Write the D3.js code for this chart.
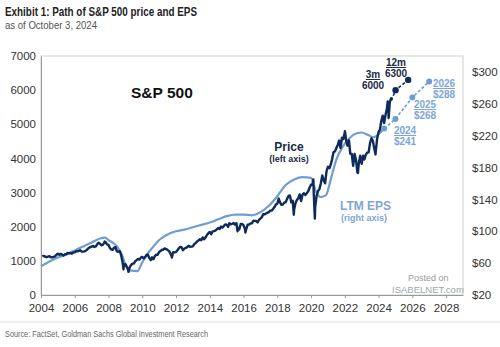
<!DOCTYPE html>
<html>
<head>
<meta charset="utf-8">
<script src="https://cdn.jsdelivr.net/npm/d3@7"></script>
<style>
  body { margin: 0; background: #fff; }
  svg { display: block; }
  .narrow { font-family: "Liberation Sans Narrow", "Liberation Sans", Arial, sans-serif; }
  .sans { font-family: "Liberation Sans", Arial, sans-serif; }
</style>
</head>
<body>
<svg width="500" height="347"></svg>
<script>
// S&P 500 month-end closes, Jan 2004 .. Sep 2024
var priceMonthly = [
  1131, 1145, 1126, 1107, 1121, 1141, 1102, 1104, 1115, 1130, 1174, 1212,
  1181, 1204, 1181, 1157, 1192, 1191, 1234, 1220, 1229, 1207, 1249, 1248,
  1280, 1281, 1295, 1311, 1270, 1270, 1277, 1304, 1336, 1378, 1401, 1418,
  1438, 1407, 1421, 1482, 1531, 1503, 1455, 1474, 1527, 1549, 1481, 1468,
  1379, 1331, 1323, 1386, 1400, 1280, 1267, 1283, 1166, 969, 896, 903,
  826, 735, 798, 873, 919, 919, 987, 1021, 1057, 1036, 1096, 1115,
  1074, 1104, 1169, 1187, 1089, 1031, 1102, 1049, 1141, 1183, 1181, 1258,
  1286, 1327, 1326, 1364, 1345, 1321, 1292, 1219, 1131, 1253, 1247, 1258,
  1312, 1366, 1408, 1398, 1310, 1362, 1379, 1407, 1441, 1412, 1416, 1426,
  1498, 1515, 1569, 1598, 1631, 1606, 1686, 1633, 1682, 1757, 1806, 1848,
  1783, 1859, 1872, 1884, 1924, 1960, 1931, 2003, 1972, 2018, 2068, 2059,
  1995, 2105, 2068, 2086, 2107, 2063, 2104, 1972, 1920, 2079, 2080, 2044,
  1940, 1932, 2060, 2065, 2097, 2099, 2174, 2171, 2168, 2126, 2199, 2239,
  2279, 2364, 2363, 2384, 2412, 2423, 2470, 2472, 2519, 2575, 2648, 2674,
  2824, 2714, 2641, 2648, 2705, 2718, 2816, 2902, 2914, 2712, 2760, 2507,
  2704, 2784, 2834, 2946, 2752, 2942, 2980, 2926, 2977, 3038, 3141, 3231,
  3226, 2954, 2585, 2912, 3044, 3100, 3271, 3500, 3363, 3270, 3622, 3756,
  3714, 3811, 3973, 4181, 4204, 4298, 4395, 4523, 4308, 4605, 4567, 4766,
  4516, 4374, 4530, 4132, 4132, 3785, 4130, 3955, 3586, 3872, 4080, 3840,
  4077, 3970, 4109, 4169, 4180, 4450, 4589, 4508, 4288, 4194, 4568, 4770,
  4846, 5096, 5254, 5036, 5278, 5460, 5522, 5648, 5762
];

// intra-month highs and lows that show up in the daily line
var priceExtremes = [
  ["2007-10-09", 1565], ["2008-11-20", 752], ["2009-03-09", 677],
  ["2010-07-02", 1022], ["2011-10-03", 1099], ["2015-08-25", 1867],
  ["2016-02-11", 1829], ["2018-12-24", 2351], ["2020-02-19", 3386],
  ["2020-03-23", 2237], ["2022-01-03", 4797], ["2022-10-12", 3577],
  ["2023-10-27", 4117], ["2024-07-16", 5667], ["2024-08-05", 5186],
  ["2024-10-03", 5700]
];

// LTM EPS (right axis)
var epsHistory = [
  ["2004-01-01", 56], ["2004-07-01", 62], ["2005-01-01", 67], ["2005-07-01", 71],
  ["2006-01-01", 76], ["2006-07-01", 81], ["2007-01-01", 86], ["2007-07-01", 91],
  ["2007-10-15", 92], ["2008-01-01", 89], ["2008-07-01", 81], ["2008-10-15", 71],
  ["2009-01-01", 58], ["2009-04-15", 51], ["2009-09-15", 50], ["2010-01-01", 61],
  ["2010-04-15", 71], ["2010-09-15", 82], ["2011-01-01", 89], ["2011-07-01", 96],
  ["2012-01-01", 100], ["2012-07-01", 102], ["2013-01-01", 105], ["2013-07-01", 108],
  ["2014-01-01", 111], ["2014-07-01", 115], ["2015-01-01", 119], ["2015-07-01", 121],
  ["2016-01-01", 121], ["2016-07-01", 120], ["2017-01-01", 124], ["2017-07-01", 132],
  ["2018-01-01", 144], ["2018-07-01", 158], ["2019-01-01", 165], ["2019-07-01", 168],
  ["2020-01-01", 167], ["2020-04-15", 150], ["2020-08-01", 143], ["2020-11-15", 145],
  ["2021-03-15", 168], ["2021-07-01", 190], ["2021-11-15", 206], ["2022-04-15", 217],
  ["2022-09-15", 223], ["2023-01-01", 224], ["2023-05-15", 221], ["2023-09-15", 218],
  ["2024-01-01", 222], ["2024-04-30", 229]
];

// Goldman Sachs forecasts
var priceForecast = [["2024-10-03", 5700], ["2025-01-03", 6000], ["2025-10-03", 6300]];
var priceForecastLabels = [["3m", "6000"], ["12m", "6300"]];
var epsForecast = [["2024-04-30", 229], ["2024-12-31", 241], ["2025-12-31", 268], ["2026-12-31", 288]];
var epsForecastLabels = [["2024", "$241"], ["2025", "$268"], ["2026", "$288"]];

var leftTicks = [0, 1000, 2000, 3000, 4000, 5000, 6000, 7000];
var rightTicks = [20, 60, 100, 140, 180, 220, 260, 300];
var yearTicks = [2004, 2006, 2008, 2010, 2012, 2014, 2016, 2018, 2020, 2022, 2024, 2026, 2028];

var navy = "#0e2a5a",
    lightBlue = "#6f9dd2",
    labelBlue = "#7ea6d4";

var svg = d3.select("svg");
var parse = d3.timeParse("%Y-%m-%d");

var priceData = priceMonthly.map(function(v, i) {
  return {date: new Date(2004, i + 1, 0), value: v};
});
priceExtremes.forEach(function(d) { priceData.push({date: parse(d[0]), value: d[1]}); });
priceData.sort(function(a, b) { return a.date - b.date; });

var epsData = epsHistory.map(function(d) { return {date: parse(d[0]), value: d[1]}; });
var pf = priceForecast.map(function(d) { return {date: parse(d[0]), value: d[1]}; });
var ef = epsForecast.map(function(d) { return {date: parse(d[0]), value: d[1]}; });

var x = d3.scaleTime().domain([new Date(2004, 0, 1), new Date(2029, 0, 1)]).range([41, 463]);
var yL = d3.scaleLinear().domain([0, 7000]).range([295, 56]);
var yR = d3.scaleLinear().domain([20, 320]).range([295, 56]);

// titles (condensed by squeezing to the reference widths)
svg.append("text").attr("class", "narrow").attr("x", 5).attr("y", 16)
  .attr("font-size", 13).attr("font-weight", "bold").attr("fill", "#222")
  .attr("textLength", 192).attr("lengthAdjust", "spacingAndGlyphs")
  .text("Exhibit 1: Path of S&P 500 price and EPS");
svg.append("text").attr("class", "narrow").attr("x", 5).attr("y", 29)
  .attr("font-size", 11.5).attr("fill", "#555")
  .attr("textLength", 92).attr("lengthAdjust", "spacingAndGlyphs")
  .text("as of October 3, 2024");

// frame
svg.append("rect").attr("x", 41).attr("y", 56).attr("width", 422).attr("height", 239)
  .attr("fill", "none").attr("stroke", "#cfcfcf").attr("stroke-width", 1);

// axes
var gx = svg.append("g").attr("transform", "translate(0,295)")
  .call(d3.axisBottom(x)
    .tickValues(yearTicks.map(function(y) { return new Date(y, 0, 1); }))
    .tickFormat(d3.timeFormat("%Y")).tickSize(3).tickSizeOuter(0));
gx.selectAll("text").attr("font-size", 11.5).attr("fill", "#333").attr("dy", "0.95em")
  .style("font-family", "Liberation Sans, Arial, sans-serif");
gx.selectAll("line, path").attr("stroke", "#999");

var gl = svg.append("g").attr("transform", "translate(41,0)")
  .call(d3.axisLeft(yL).tickValues(leftTicks).tickFormat(d3.format("d")).tickSize(0).tickPadding(5));
gl.selectAll("text").attr("font-size", 11.5).attr("fill", "#333")
  .style("font-family", "Liberation Sans, Arial, sans-serif");
gl.select("path").attr("stroke", "#999");

var gr = svg.append("g").attr("transform", "translate(463,0)")
  .call(d3.axisRight(yR).tickValues(rightTicks).tickFormat(function(d) { return "$" + d; })
    .tickSize(0).tickPadding(9));
gr.selectAll("text").attr("font-size", 11.5).attr("fill", "#333")
  .style("font-family", "Liberation Sans, Arial, sans-serif");
gr.select("path").remove();

// lines
var epsLine = d3.line().x(function(d) { return x(d.date); }).y(function(d) { return yR(d.value); })
  .curve(d3.curveMonotoneX);
var priceLine = d3.line().x(function(d) { return x(d.date); }).y(function(d) { return yL(d.value); });

svg.append("path").datum(epsData).attr("d", epsLine)
  .attr("fill", "none").attr("stroke", lightBlue).attr("stroke-width", 2.2);

svg.append("path").datum(priceData).attr("d", priceLine)
  .attr("fill", "none").attr("stroke", navy).attr("stroke-width", 2.4)
  .attr("stroke-linejoin", "round");

// forecasts
var epsFLine = d3.line().x(function(d) { return x(d.date); }).y(function(d) { return yR(d.value); });
svg.append("path").datum(ef).attr("d", epsFLine)
  .attr("fill", "none").attr("stroke", lightBlue).attr("stroke-width", 1.6)
  .attr("stroke-dasharray", "3,2");
svg.selectAll(".edot").data(ef).enter().append("circle")
  .attr("cx", function(d) { return x(d.date); }).attr("cy", function(d) { return yR(d.value); })
  .attr("r", 3).attr("fill", lightBlue);

svg.append("path").datum(pf).attr("d", priceLine)
  .attr("fill", "none").attr("stroke", navy).attr("stroke-width", 1.6)
  .attr("stroke-dasharray", "3,2");
svg.selectAll(".pdot").data(pf.slice(1)).enter().append("circle")
  .attr("cx", function(d) { return x(d.date); }).attr("cy", function(d) { return yL(d.value); })
  .attr("r", 3.2).attr("fill", navy);

// forecast labels
var pLabelPos = [[373, 78], [396, 66]];
priceForecastLabels.forEach(function(l, i) {
  var t = svg.append("text").attr("class", "sans").attr("text-anchor", "middle")
    .attr("font-size", 10).attr("font-weight", "bold").attr("fill", "#1a2a44");
  t.append("tspan").attr("x", pLabelPos[i][0]).attr("y", pLabelPos[i][1])
    .attr("text-decoration", "underline").text(l[0]);
  t.append("tspan").attr("x", pLabelPos[i][0]).attr("y", pLabelPos[i][1] + 11).text(l[1]);
});

var eLabelPos = [[405, 134], [425, 108], [444, 87]];
epsForecastLabels.forEach(function(l, i) {
  var t = svg.append("text").attr("class", "sans").attr("text-anchor", "middle")
    .attr("font-size", 10).attr("font-weight", "bold").attr("fill", labelBlue);
  t.append("tspan").attr("x", eLabelPos[i][0]).attr("y", eLabelPos[i][1])
    .attr("text-decoration", "underline").text(l[0]);
  t.append("tspan").attr("x", eLabelPos[i][0]).attr("y", eLabelPos[i][1] + 11).text(l[1]);
});

// series labels
svg.append("text").attr("class", "sans").attr("x", 131).attr("y", 98)
  .attr("font-size", 15.5).attr("font-weight", "bold").attr("fill", "#111").text("S&P 500");
svg.append("text").attr("class", "sans").attr("x", 289).attr("y", 151).attr("text-anchor", "middle")
  .attr("font-size", 12).attr("font-weight", "bold").attr("fill", "#1a2a44").text("Price");
svg.append("text").attr("class", "sans").attr("x", 289).attr("y", 162).attr("text-anchor", "middle")
  .attr("font-size", 9).attr("font-weight", "bold").attr("fill", "#1a2a44").text("(left axis)");
svg.append("text").attr("class", "sans").attr("x", 340).attr("y", 210)
  .attr("font-size", 12).attr("font-weight", "bold").attr("fill", labelBlue).text("LTM EPS");
svg.append("text").attr("class", "sans").attr("x", 341).attr("y", 221)
  .attr("font-size", 9).attr("font-weight", "bold").attr("fill", labelBlue).text("(right axis)");

// watermark
svg.append("text").attr("class", "sans").attr("x", 408).attr("y", 281)
  .attr("font-size", 9).attr("fill", "#999").text("Posted on");
svg.append("text").attr("class", "sans").attr("x", 392).attr("y", 293)
  .attr("font-size", 9.5).attr("fill", "#9aa").text("ISABELNET.com");

// footer
svg.append("line").attr("x1", 0).attr("x2", 500).attr("y1", 322).attr("y2", 322)
  .attr("stroke", "#e2e2e2");
svg.append("text").attr("class", "narrow").attr("x", 5).attr("y", 337)
  .attr("font-size", 9).attr("fill", "#666")
  .attr("textLength", 203).attr("lengthAdjust", "spacingAndGlyphs")
  .text("Source: FactSet, Goldman Sachs Global Investment Research");
</script>
</body>
</html>
